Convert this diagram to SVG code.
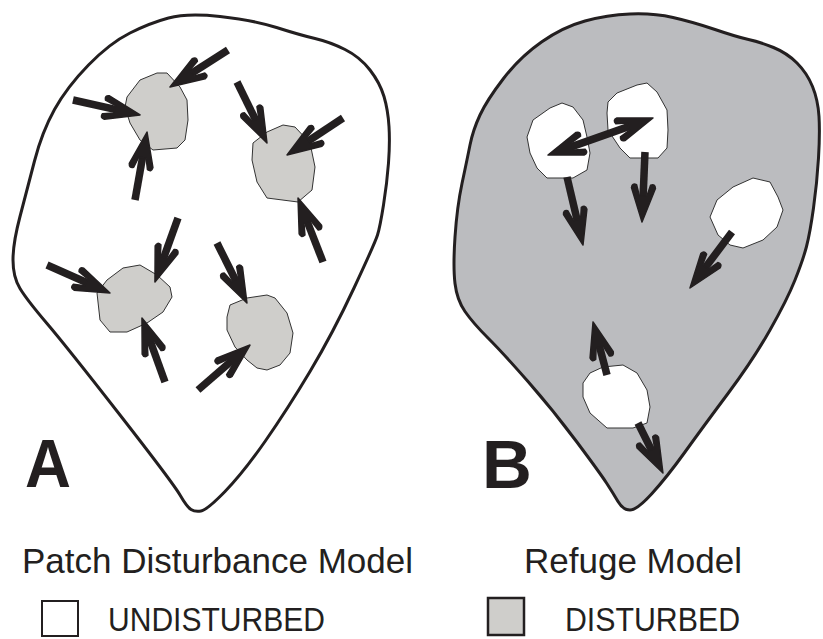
<svg xmlns="http://www.w3.org/2000/svg" width="823" height="639" viewBox="0 0 823 639">
<style>
.outline{stroke:#231f20;stroke-width:3;stroke-linejoin:round}
.patch{stroke:#333;stroke-width:1;stroke-linejoin:round}
.pa{fill:#cfcecb}
.pb{fill:#ffffff}
.arr{fill:none;stroke:#231f20;stroke-width:7.5;stroke-linecap:butt}
.lbl{font-family:"Liberation Sans",Arial,sans-serif;font-weight:bold;fill:#231f20}
.txt{font-family:"Liberation Sans",Arial,sans-serif;fill:#231f20;font-size:35px}
.leg{font-family:"Liberation Sans",Arial,sans-serif;fill:#231f20;font-size:33px}
</style>
<defs>
<marker id="ah" markerUnits="userSpaceOnUse" orient="auto" viewBox="-30 -20 60 40" markerWidth="60" markerHeight="40" refX="0" refY="0" overflow="visible">
<path d="M14,0 L-20,-12 Q-25,-11.5 -23,-7 L-12,-3.7 L-12,3.7 L-23,7 Q-25,11.5 -20,12 Z" fill="#231f20" stroke="#231f20" stroke-width="1.5" stroke-linejoin="round"/>
</marker>
<marker id="ah2" markerUnits="userSpaceOnUse" orient="auto-start-reverse" viewBox="-30 -20 60 40" markerWidth="60" markerHeight="40" refX="0" refY="0" overflow="visible">
<path d="M14,0 L-20,-12 Q-25,-11.5 -23,-7 L-12,-3.7 L-12,3.7 L-23,7 Q-25,11.5 -20,12 Z" fill="#231f20" stroke="#231f20" stroke-width="1.5" stroke-linejoin="round"/>
</marker>
</defs>
<rect width="823" height="639" fill="#ffffff"/>

<g id="region-a">
<path class="outline" fill="#ffffff" d="M168.5,18 Q187,13 220,16.5 Q253,20 276.5,27.5 Q300,35 315,38.5 Q330,42 345,49.5 Q360,57 370,70 Q380,83 384,96.5 Q388,110 389,126.5 Q390,143 388.5,163 Q387,183 383.5,205 Q380,227 377.5,235 Q375,243 354,288 Q333,333 310,371.5 Q287,410 265,441.5 Q243,473 225,491.5 Q207,510 201,511 Q195,512 191,509.5 Q187,507 180,495 Q173,483 120,415 Q67,347 47,323.5 Q27,300 20,288.5 Q13,277 13,260 Q13,243 20,216.5 Q27,190 34.5,161 Q42,132 54.5,109.5 Q67,87 88.5,65 Q110,43 130,33 Q150,23 168.5,18 Z"/>
</g>
<g id="patch-a1"><polygon class="patch pa" points="127,97 140,80 157,73 167,73 180,87 187,100 188,120 185,140 177,148 153,150 140,140 130,123 125,107"/></g>
<g id="patch-a2"><polygon class="patch pa" points="253,143 267,132 283,125 295,127 310,143 315,167 312,190 298,202 267,198 257,182 252,160"/></g>
<g id="patch-a3"><polygon class="patch pa" points="97,293 107,280 123,268 140,265 157,275 170,287 172,297 163,312 147,323 127,332 110,332 100,320"/></g>
<g id="patch-a4"><polygon class="patch pa" points="230,305 247,298 267,295 275,298 287,313 293,333 290,353 280,365 267,370 257,368 247,360 235,347 227,330 227,317"/></g>

<g id="region-b">
<path class="outline" fill="#bbbcbf" d="M470,145 Q473,130 480,115 Q487,100 503.5,78.5 Q520,57 541.5,42 Q563,27 585,21 Q607,15 630,14 Q653,13 673,17.5 Q693,22 715,29.5 Q737,37 748.5,39.5 Q760,42 773.5,47.5 Q787,53 797,63 Q807,73 812.5,86.5 Q818,100 819,116.5 Q820,133 818.5,158 Q817,183 813.5,208 Q810,233 806.5,246.5 Q803,260 795,280 Q787,300 770,330 Q753,360 728,393.5 Q703,427 685,452 Q667,477 652,493.5 Q637,510 630,510 Q623,510 618,501.5 Q613,493 606.5,483 Q600,473 576.5,441.5 Q553,410 528,381.5 Q503,353 488,338 Q473,323 465,311.5 Q457,300 455,283.5 Q453,267 455,237 Q457,207 462,183.5 Q467,160 470,145 Z"/>
</g>
<g id="refuge-b1"><polygon class="patch pb" points="527,137 533,120 550,108 562,103 573,107 583,120 587,137 590,153 587,170 573,178 547,178 537,168 530,153"/></g>
<g id="refuge-b2"><polygon class="patch pb" points="608,102 617,93 637,85 647,83 657,92 667,110 668,130 667,148 658,158 630,158 620,148 608,130 607,113"/></g>
<g id="refuge-b3"><polygon class="patch pb" points="710,217 717,200 733,187 753,178 770,182 778,197 783,210 777,227 763,240 743,248 730,245 718,235"/></g>
<g id="refuge-b4"><polygon class="patch pb" points="583,383 590,373 603,367 623,365 637,373 647,390 650,407 647,423 633,428 607,428 590,413 583,397"/></g>

<g id="connectors">
<line class="arr" marker-end="url(#ah)" x1="228" y1="50" x2="181.8" y2="79.5"/>
<line class="arr" marker-end="url(#ah)" x1="73" y1="100" x2="126.4" y2="111.9"/>
<line class="arr" marker-end="url(#ah)" x1="135" y1="200" x2="144.6" y2="145.8"/>
<line class="arr" marker-end="url(#ah)" x1="237" y1="82" x2="260.8" y2="130.4"/>
<line class="arr" marker-end="url(#ah)" x1="343" y1="118" x2="298.7" y2="147.3"/>
<line class="arr" marker-end="url(#ah)" x1="323" y1="262" x2="303.1" y2="211"/>
<line class="arr" marker-end="url(#ah)" x1="178" y1="218" x2="159.7" y2="268.8"/>
<line class="arr" marker-end="url(#ah)" x1="47" y1="265" x2="97.2" y2="287.3"/>
<line class="arr" marker-end="url(#ah)" x1="165" y1="382" x2="146.7" y2="331.2"/>
<line class="arr" marker-end="url(#ah)" x1="217" y1="243" x2="240.7" y2="290.5"/>
<line class="arr" marker-end="url(#ah)" x1="198" y1="390" x2="239.4" y2="354.2"/>
<line class="arr" marker-start="url(#ah2)" marker-end="url(#ah2)" x1="561.2" y1="150.4" x2="639.8" y2="122.6"/>
<line class="arr" marker-end="url(#ah)" x1="567" y1="177" x2="579.8" y2="231.4"/>
<line class="arr" marker-end="url(#ah)" x1="645" y1="152" x2="642.6" y2="208"/>
<line class="arr" marker-end="url(#ah)" x1="732" y1="232" x2="698.4" y2="276.8"/>
<line class="arr" marker-end="url(#ah)" x1="607" y1="375" x2="596.6" y2="335.5"/>
<line class="arr" marker-end="url(#ah)" x1="638" y1="423" x2="656.7" y2="460.5"/>
</g>

<g id="label-a"><text class="lbl" x="25" y="487" font-size="69" textLength="46" lengthAdjust="spacingAndGlyphs">A</text></g>
<g id="label-b"><text class="lbl" x="482" y="488" font-size="69">B</text></g>

<g id="titles">
<text class="txt" x="22" y="573">Patch Disturbance Model</text>
<text class="txt" x="524" y="573">Refuge Model</text>
</g>
<g id="legend-undisturbed">
<rect x="42" y="601" width="36" height="35" fill="#ffffff" stroke="#231f20" stroke-width="2"/>
<text class="leg" x="108" y="631" textLength="217" lengthAdjust="spacingAndGlyphs">UNDISTURBED</text>
</g>
<g id="legend-disturbed">
<rect x="488" y="598" width="36" height="37" fill="#cfcecb" stroke="#231f20" stroke-width="2.5"/>
<text class="leg" x="565" y="631" textLength="175" lengthAdjust="spacingAndGlyphs">DISTURBED</text>
</g>
</svg>
